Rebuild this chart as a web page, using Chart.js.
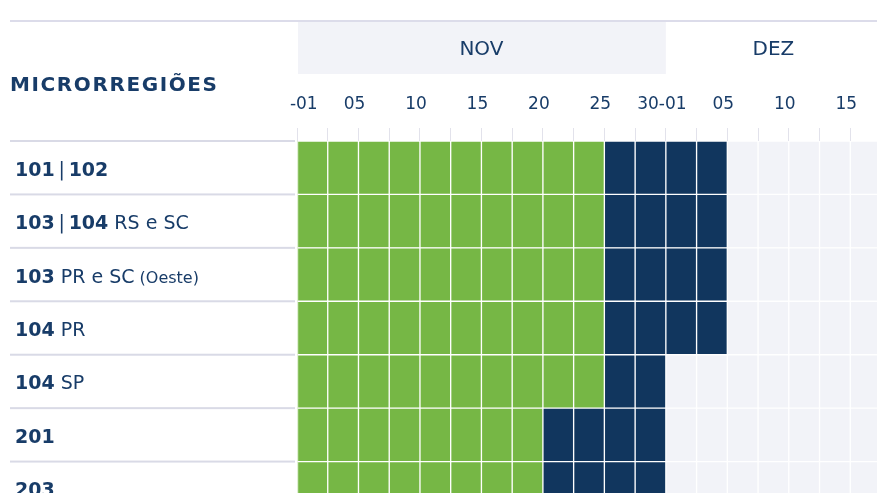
<!DOCTYPE html>
<html lang="pt-BR">
<head>
<meta charset="utf-8">
<title>Microrregiões</title>
<script src="https://cdn.jsdelivr.net/npm/chart.js@4.4.1/dist/chart.umd.min.js"></script>
<style>
    html, body { margin: 0; padding: 0; background: #fff; overflow: hidden; }
    #wrap { position: relative; width: 881px; height: 515px; }
</style>
</head>
<body>
<div id="wrap"><canvas id="grafico"></canvas></div>
<script>
// ── Dados ─────────────────────────────────────────────────────────────────
var microrregioes = ['101 | 102', '103 | 104', '103', '104', '104', '201', '203'];
var complemento   = ['', 'RS e SC', 'PR e SC', 'PR', 'SP', '', ''];
var observacao    = ['', '', '(Oeste)', '', '', '', ''];

// rótulos do eixo: um a cada 2 colunas (0, 2, 4, ...)
var rotulosEixo = ['-01', '05', '10', '15', '20', '25', '30-01', '05', '10', '15'];
var totalColunas = 19;

var meses     = ['NOV', 'DEZ'];
var mesInicio = [0, 12];
var mesFim    = [12, 19];

// coluna onde termina o verde e onde termina o azul, por linha
var fimVerde = [10, 10, 10, 10, 10, 8, 8];
var fimAzul  = [14, 14, 14, 14, 12, 12, 12];

var COR_VERDE = '#76b745';
var COR_AZUL  = '#11365e';
var COR_VAZIO = '#f2f3f8';
var COR_TEXTO = '#183c68';
var FONTE = "'DejaVu Sans', sans-serif";

// ── Um dataset por coluna: cada célula é uma barra flutuante [c, c+1] ─────
var datasets = [];
for (var c = 0; c < totalColunas; c++) {
    datasets.push({
        label: 'col' + c,
        data: microrregioes.map(function () { return [c, c + 1]; }),
        backgroundColor: microrregioes.map(function (m, i) {
            if (c < fimVerde[i]) return COR_VERDE;
            if (c < fimAzul[i]) return COR_AZUL;
            return COR_VAZIO;
        }),
        borderColor: '#ffffff',
        borderWidth: 1,
        borderSkipped: false,
        grouped: false,
        categoryPercentage: 1,
        barPercentage: 1
    });
}

// ── Cabeçalho, meses e rótulos das linhas ─────────────────────────────────
var decoracao = {
    id: 'decoracao',
    beforeDraw: function (chart) {
        var ctx = chart.ctx, x = chart.scales.x;
        ctx.save();
        // linha do topo
        ctx.fillStyle = '#dcdcea';
        ctx.fillRect(10, 20, 870, 2);
        // faixas dos meses
        meses.forEach(function (m, i) {
            var x0 = x.getPixelForValue(mesInicio[i]);
            var x1 = x.getPixelForValue(mesFim[i]);
            if (i === 0) {
                ctx.fillStyle = COR_VAZIO;
                ctx.fillRect(x0 + 1, 22, x1 - x0 - 1, 52);
            }
            ctx.fillStyle = COR_TEXTO;
            ctx.font = '400 20px ' + FONTE;
            ctx.textAlign = 'center';
            ctx.textBaseline = 'middle';
            ctx.fillText(m, (x0 + x1) / 2, 50);
        });
        // título
        ctx.font = '700 20px ' + FONTE;
        ctx.letterSpacing = '1.6px';
        ctx.textAlign = 'left';
        ctx.textBaseline = 'alphabetic';
        ctx.fillText('MICRORREGIÕES', 10, 91);
        ctx.letterSpacing = '0px';
        ctx.restore();
    },
    afterDraw: function (chart) {
        var ctx = chart.ctx, y = chart.scales.y;
        var alt = y.getPixelForValue(1) - y.getPixelForValue(0);
        ctx.save();
        ctx.fillStyle = '#d9dae6';
        for (var i = 0; i <= microrregioes.length; i++) {
            var yy = y.getPixelForValue(i) - alt / 2;
            ctx.fillRect(10, yy - 1, chart.chartArea.left - 12, 2);
        }
        ctx.fillStyle = COR_TEXTO;
        ctx.textBaseline = 'middle';
        microrregioes.forEach(function (m, i) {
            var yc = y.getPixelForValue(i) + 3;
            var xx = 15;
            var partes = m.split(' | ');
            partes.forEach(function (p, k) {
                if (k > 0) {
                    // separador fino, peso normal
                    ctx.font = '400 19px ' + FONTE;
                    ctx.fillText('\u2009|\u2009', xx, yc);
                    xx += ctx.measureText('\u2009|\u2009').width;
                }
                ctx.font = '700 19px ' + FONTE;
                ctx.fillText(p, xx, yc);
                xx += ctx.measureText(p).width;
            });
            if (complemento[i]) {
                ctx.font = '400 19px ' + FONTE;
                ctx.fillText(' ' + complemento[i], xx, yc);
                xx += ctx.measureText(' ' + complemento[i]).width;
            }
            if (observacao[i]) {
                ctx.font = '400 16px ' + FONTE;
                ctx.fillText(' ' + observacao[i], xx, yc + 1);
            }
        });
        ctx.restore();
    }
};

new Chart(document.getElementById('grafico'), {
    type: 'bar',
    data: { labels: microrregioes, datasets: datasets },
    plugins: [decoracao],
    options: {
        indexAxis: 'y',
        responsive: true,
        maintainAspectRatio: false,
        animation: false,
        layout: { padding: 0 },
        plugins: { legend: { display: false }, tooltip: { enabled: false } },
        scales: {
            x: {
                type: 'linear',
                position: 'top',
                min: 0,
                max: totalColunas,
                afterFit: function (s) {
                    s.height = 141;
                    s.paddingLeft = 0;
                    s.paddingRight = 0;
                },
                border: { display: false },
                grid: { drawOnChartArea: false, tickLength: 13, tickColor: '#e2e2eb', tickWidth: 1 },
                ticks: {
                    stepSize: 1,
                    autoSkip: false,
                    maxRotation: 0,
                    padding: 13,
                    labelOffset: -4,
                    color: COR_TEXTO,
                    font: { family: FONTE, size: 17 },
                    callback: function (v) {
                        if (v % 2 !== 0) return '';
                        var r = rotulosEixo[v / 2];
                        return v === 0 ? '    ' + r : r;
                    }
                }
            },
            y: {
                type: 'category',
                afterFit: function (s) { s.width = 297; },
                border: { display: true, color: '#9ccd73', width: 1 },
                grid: { display: false },
                ticks: { display: false }
            }
        }
    }
});
</script>
</body>
</html>
